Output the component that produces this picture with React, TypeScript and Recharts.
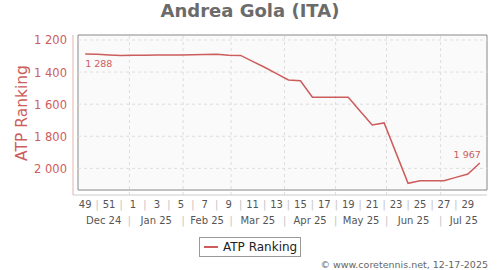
import React from 'react';
import {
  ComposedChart,
  Line,
  XAxis,
  YAxis,
  ReferenceArea,
  ReferenceLine,
  Legend,
} from 'recharts';

// one entry per ranking week, starting at week 49 of 2024
const weekNumbers = [
  49, 50, 51, 52, 1, 2, 3, 4, 5, 6, 7, 8, 9, 10, 11, 12, 13, 14, 15, 16, 17,
  18, 19, 20, 21, 22, 23, 24, 25, 26, 27, 28, 29, 30,
];
const rankings = [
  1288, 1289, 1293, 1296, 1295, 1295, 1294, 1294, 1293, 1292, 1290, 1289, 1295,
  1296, 1333, 1370, 1410, 1449, 1454, 1557, 1557, 1557, 1557, 1644, 1730, 1717,
  1905, 2093, 2077, 2077, 2077, 2056, 2035, 1967,
];
const monthLabels = ['Dec 24', 'Jan 25', 'Feb 25', 'Mar 25', 'Apr 25', 'May 25', 'Jun 25', 'Jul 25'];
// month boundaries, in week-index units
const monthStarts = [3.7, 8.19, 12.2, 16.67, 20.94, 25.2, 29.72];
const rankTicks = [1200, 1400, 1600, 1800, 2000];

const X_DOMAIN: [number, number] = [-0.6, 33.6];
const Y_DOMAIN: [number, number] = [1169, 2166];
const BOX_BOTTOM = 2135;

const RED = '#cd5c5c';
const FONT = "'DejaVu Sans', Verdana, sans-serif";

const data = weekNumbers.map((week, i) => ({ idx: i, week, rank: rankings[i] }));

const weekTicks = weekNumbers.slice(0, 33).map((_, i) => i);

const monthEdges = [X_DOMAIN[0], ...monthStarts, X_DOMAIN[1]];
const monthCenters = monthLabels.map((_, i) => (monthEdges[i] + monthEdges[i + 1]) / 2);
const monthTicks = [...monthCenters, ...monthStarts].sort((a, b) => a - b);

const fmt = (v: number) =>
  v >= 1000 ? `${Math.floor(v / 1000)} ${String(v % 1000).padStart(3, '0')}` : String(v);

function WeekTick({ x, y, payload }: any) {
  const w = weekNumbers[payload.value];
  const odd = w % 2 === 1;
  return (
    <text
      x={x}
      y={y}
      dy={12.5}
      textAnchor="middle"
      fontFamily={FONT}
      fontSize={odd ? 10 : 11}
      fill={odd ? '#555' : '#c8c8c8'}
    >
      {odd ? w : '|'}
    </text>
  );
}

function MonthTick({ x, y, payload }: any) {
  const i = monthCenters.indexOf(payload.value);
  const isLabel = i >= 0;
  return (
    <text
      x={x}
      y={y}
      dy={14}
      textAnchor="middle"
      fontFamily={FONT}
      fontSize={isLabel ? 10 : 11}
      fill={isLabel ? '#555' : '#c8c8c8'}
    >
      {isLabel ? monthLabels[i] : '|'}
    </text>
  );
}

function RankTick({ x, y, payload }: any) {
  return (
    <text x={x} y={y} dy={4.5} textAnchor="end" fontFamily={FONT} fontSize={11.5} fill={RED}>
      {fmt(payload.value)}
    </text>
  );
}

const renderPointLabel = (p: any) => {
  if (p.index === 0) {
    return (
      <text key="first" x={p.x} y={p.y} dy={12.7} textAnchor="start" fontFamily={FONT} fontSize={9.5} fill={RED}>
        {fmt(p.value)}
      </text>
    );
  }
  if (p.index === rankings.length - 1) {
    return (
      <text key="last" x={p.x + 1} y={p.y} dy={-5} textAnchor="end" fontFamily={FONT} fontSize={9.5} fill={RED}>
        {fmt(p.value)}
      </text>
    );
  }
  return <g key={p.index} />;
};

function LegendBox() {
  return (
    <div
      style={{
        border: '1px solid #999',
        background: '#fff',
        height: 20,
        width: 102,
        boxSizing: 'border-box',
        display: 'flex',
        alignItems: 'center',
        whiteSpace: 'nowrap',
        fontFamily: FONT,
        fontSize: 12,
        lineHeight: '14px',
        color: '#222',
      }}
    >
      <span style={{ display: 'inline-block', flexShrink: 0, width: 14, height: 2, background: RED, margin: '0 5px 0 4px' }} />
      ATP Ranking
    </div>
  );
}

export default function App() {
  return (
    <div style={{ position: 'fixed', left: 0, top: 0, width: 500, height: 270, background: '#fff' }}>
      <ComposedChart
        width={500}
        height={270}
        data={data}
        margin={{ top: 35, right: 13, bottom: 40, left: 0 }}
      >
        <XAxis
          dataKey="idx"
          type="number"
          domain={X_DOMAIN}
          allowDataOverflow
          ticks={weekTicks}
          interval={0}
          padding={{ left: 5, right: 0 }}
          height={15}
          tickLine={false}
          tickSize={0}
          tickMargin={0}
          axisLine={{ stroke: '#ccc' }}
          tick={<WeekTick />}
        />
        <XAxis
          xAxisId="m"
          dataKey="idx"
          type="number"
          domain={X_DOMAIN}
          allowDataOverflow
          ticks={monthTicks}
          interval={0}
          padding={{ left: 5, right: 0 }}
          height={20}
          tickLine={false}
          tickSize={0}
          tickMargin={0}
          axisLine={false}
          tick={<MonthTick />}
        />
        <YAxis
          dataKey="rank"
          type="number"
          reversed
          domain={Y_DOMAIN}
          allowDataOverflow
          ticks={rankTicks}
          interval={0}
          width={73}
          tickLine={false}
          tickSize={0}
          tickMargin={6}
          axisLine={{ stroke: '#e3b3b3' }}
          tick={<RankTick />}
        />
        <ReferenceArea
          x1={X_DOMAIN[0]}
          x2={X_DOMAIN[1]}
          y1={Y_DOMAIN[0]}
          y2={BOX_BOTTOM}
          fill="#fafafa"
          fillOpacity={1}
          stroke="#888"
          strokeWidth={1}
          ifOverflow="extendDomain"
        />
        {rankTicks.map((t) => (
          <ReferenceLine
            key={t}
            segment={[
              { x: X_DOMAIN[0], y: t },
              { x: X_DOMAIN[1], y: t },
            ]}
            stroke="#ddd"
            strokeDasharray="3 3"
          />
        ))}
        {monthStarts.map((m) => (
          <ReferenceLine key={m} x={m} stroke="#ddd" strokeDasharray="3 3" />
        ))}
        <Line
          type="linear"
          dataKey="rank"
          name="ATP Ranking"
          stroke={RED}
          strokeWidth={1.5}
          dot={false}
          activeDot={false}
          isAnimationActive={false}
          label={renderPointLabel}
        />
        <Legend
          layout="horizontal"
          verticalAlign="middle"
          align="center"
          wrapperStyle={{ position: 'absolute', left: 199, top: 237, width: 102, height: 20 }}
          content={<LegendBox />}
        />
      </ComposedChart>
      <svg
        width={500}
        height={270}
        style={{ position: 'absolute', left: 0, top: 0, pointerEvents: 'none' }}
      >
        <text x={250} y={17} textAnchor="middle" fontFamily={FONT} fontWeight="bold" fontSize={18} fill="#6b6b6b">
          Andrea Gola (ITA)
        </text>
        <text
          transform="translate(27,113) rotate(-90)"
          textAnchor="middle"
          fontFamily={FONT}
          fontSize={15.5}
          fill={RED}
        >
          ATP Ranking
        </text>
        <text x={488} y={267.5} textAnchor="end" fontFamily={FONT} fontSize={9.5} fill="#666">
          © www.coretennis.net, 12-17-2025
        </text>
      </svg>
    </div>
  );
}
